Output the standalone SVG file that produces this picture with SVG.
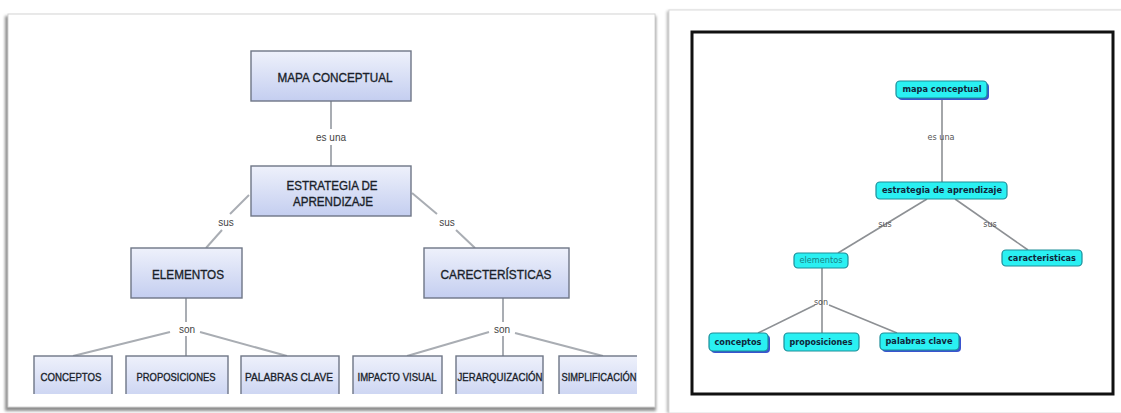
<svg xmlns="http://www.w3.org/2000/svg" width="1121" height="413" viewBox="0 0 1121 413">
  <defs>
    <linearGradient id="boxFill" x1="0" y1="0" x2="0" y2="1">
      <stop offset="0" stop-color="#eef1fb"/>
      <stop offset="1" stop-color="#c4cef0"/>
    </linearGradient>
    <filter id="panelShadow" x="-5%" y="-5%" width="110%" height="110%">
      <feGaussianBlur stdDeviation="1.5"/>
    </filter>
    <clipPath id="leftClip">
      <rect x="10" y="16" width="627" height="378"/>
    </clipPath>
    <style>
      .box { fill: url(#boxFill); stroke: #6e7686; stroke-width: 1.4; }
      .cap { font-family: "Liberation Sans", Arial, sans-serif; fill: #1a1f2a; stroke: #1a1f2a; stroke-width: 0.35; text-anchor: middle; }
      .big { font-size: 13px; }
      .small { font-size: 11.5px; }
      .lnk { font-family: "Liberation Sans", Arial, sans-serif; font-size: 10px; fill: #444; text-anchor: middle; }
      .edge { stroke: #a9adb3; stroke-width: 2; fill: none; }
      .node { fill: #2af0f2; stroke: #1d8d98; stroke-width: 1.2; }
      .nshadow { fill: #3a54cf; }
      .ntxt { font-family: "DejaVu Sans", Verdana, sans-serif; font-size: 8px; font-weight: bold; fill: #10263a; text-anchor: middle; }
      .nlite { font-family: "DejaVu Sans", Verdana, sans-serif; font-size: 8px; fill: #1a8286; text-anchor: middle; }
      .rlnk { font-family: "DejaVu Sans", Verdana, sans-serif; font-size: 8px; fill: #555; text-anchor: middle; }
      .redge { stroke: #8d9094; stroke-width: 1.6; fill: none; }
    </style>
  </defs>

  <rect x="0" y="0" width="1121" height="413" fill="#ffffff"/>

  <!-- left sheet -->
  <g id="left-panel">
    <rect x="5" y="16" width="651" height="395" fill="#8e8e8e" filter="url(#panelShadow)"/>
    <rect x="8" y="14" width="647" height="393" fill="#ffffff" stroke="#d4d4d4" stroke-width="1"/>
  </g>

  <!-- right sheet -->
  <g id="right-panel">
    <rect x="667" y="11" width="460" height="402" fill="#b0b0b0" filter="url(#panelShadow)"/>
    <rect x="669" y="10" width="460" height="403" fill="#ffffff" stroke="#dcdcdc" stroke-width="1"/>
    <rect x="692" y="32" width="421" height="362" fill="#ffffff" stroke="#111111" stroke-width="3"/>
  </g>

  <!-- left map connectors -->
  <g id="left-connectors">
    <line class="edge" x1="331" y1="101" x2="331" y2="129"/>
    <line class="edge" x1="331" y1="145" x2="331" y2="166"/>
    <line class="edge" x1="249" y1="195" x2="230" y2="214"/>
    <line class="edge" x1="222" y1="230" x2="206" y2="248"/>
    <line class="edge" x1="412" y1="193" x2="437" y2="214"/>
    <line class="edge" x1="456" y1="230" x2="475" y2="248"/>
    <line class="edge" x1="186" y1="298" x2="186" y2="322"/>
    <line class="edge" x1="186" y1="336" x2="186" y2="356"/>
    <line class="edge" x1="170" y1="332" x2="73" y2="356"/>
    <line class="edge" x1="200" y1="332" x2="287" y2="356"/>
    <line class="edge" x1="503" y1="298" x2="503" y2="322"/>
    <line class="edge" x1="503" y1="336" x2="503" y2="356"/>
    <line class="edge" x1="489" y1="332" x2="407" y2="356"/>
    <line class="edge" x1="515" y1="333" x2="603" y2="356"/>
  </g>

  <g id="left-labels">
    <text class="lnk" x="331" y="141">es una</text>
    <text class="lnk" x="226" y="226">sus</text>
    <text class="lnk" x="447" y="226">sus</text>
    <text class="lnk" x="187" y="333">son</text>
    <text class="lnk" x="502" y="333">son</text>
  </g>

  <g id="n-mapa">
    <rect class="box" x="251" y="51" width="160" height="50"/>
    <text class="cap big" x="335" y="82" textLength="115" lengthAdjust="spacingAndGlyphs">MAPA CONCEPTUAL</text>
  </g>
  <g id="n-estrategia">
    <rect class="box" x="251" y="166" width="160" height="50"/>
    <text class="cap big" x="332" y="190" textLength="91" lengthAdjust="spacingAndGlyphs">ESTRATEGIA DE</text>
    <text class="cap big" x="333" y="206" textLength="80" lengthAdjust="spacingAndGlyphs">APRENDIZAJE</text>
  </g>
  <g id="n-elementos">
    <rect class="box" x="131" y="248" width="111" height="50"/>
    <text class="cap big" x="188" y="279" textLength="72" lengthAdjust="spacingAndGlyphs">ELEMENTOS</text>
  </g>
  <g id="n-carecteristicas">
    <rect class="box" x="424" y="248" width="145" height="50"/>
    <text class="cap big" x="496" y="279" textLength="111" lengthAdjust="spacingAndGlyphs">CARECTERÍSTICAS</text>
  </g>

  <!-- bottom row runs past the edge of the sheet -->
  <g clip-path="url(#leftClip)">
    <g id="n-conceptos">
      <rect class="box" x="34" y="356" width="78" height="50"/>
      <text class="cap small" x="71" y="381" textLength="61" lengthAdjust="spacingAndGlyphs">CONCEPTOS</text>
    </g>
    <g id="n-proposiciones">
      <rect class="box" x="126" y="356" width="102" height="50"/>
      <text class="cap small" x="176" y="381" textLength="79" lengthAdjust="spacingAndGlyphs">PROPOSICIONES</text>
    </g>
    <g id="n-palabras">
      <rect class="box" x="241" y="356" width="98" height="50"/>
      <text class="cap small" x="289" y="381" textLength="88" lengthAdjust="spacingAndGlyphs">PALABRAS CLAVE</text>
    </g>
    <g id="n-impacto">
      <rect class="box" x="353" y="356" width="89" height="50"/>
      <text class="cap small" x="397" y="381" textLength="79" lengthAdjust="spacingAndGlyphs">IMPACTO VISUAL</text>
    </g>
    <g id="n-jerarquizacion">
      <rect class="box" x="456" y="356" width="87" height="50"/>
      <text class="cap small" x="500" y="381" textLength="85" lengthAdjust="spacingAndGlyphs">JERARQUIZACIÓN</text>
    </g>
    <g id="n-simplificacion">
      <rect class="box" x="559" y="356" width="90" height="50"/>
      <text class="cap small" x="599" y="381" textLength="75" lengthAdjust="spacingAndGlyphs">SIMPLIFICACIÓN</text>
    </g>
  </g>

  <!-- right map connectors -->
  <g id="right-connectors">
    <line class="redge" x1="942" y1="98" x2="942" y2="183"/>
    <line class="redge" x1="927" y1="199" x2="838" y2="253"/>
    <line class="redge" x1="955" y1="199" x2="1028" y2="250"/>
    <line class="redge" x1="822" y1="268" x2="822" y2="333"/>
    <line class="redge" x1="815" y1="305" x2="758" y2="333"/>
    <line class="redge" x1="829" y1="305" x2="897" y2="333"/>
  </g>

  <g id="right-labels">
    <text class="rlnk" x="941" y="140" textLength="27" lengthAdjust="spacingAndGlyphs">es una</text>
    <text class="rlnk" x="885" y="227">sus</text>
    <text class="rlnk" x="990" y="227">sus</text>
    <text class="rlnk" x="821" y="305">son</text>
  </g>

  <g id="r-mapa">
    <rect class="nshadow" x="898" y="83" width="91" height="17" rx="4"/>
    <rect class="node" x="896" y="81" width="91" height="17" rx="4"/>
    <text class="ntxt" x="942" y="92" textLength="79" lengthAdjust="spacingAndGlyphs">mapa conceptual</text>
  </g>
  <g id="r-estrategia">
    <rect class="node" x="876" y="182" width="131" height="17" rx="4"/>
    <text class="ntxt" x="942" y="193" textLength="120" lengthAdjust="spacingAndGlyphs">estrategia de aprendizaje</text>
  </g>
  <g id="r-elementos">
    <rect class="node" x="794" y="253" width="54" height="15" rx="4"/>
    <text class="nlite" x="821" y="263" textLength="43" lengthAdjust="spacingAndGlyphs">elementos</text>
  </g>
  <g id="r-caracteristicas">
    <rect class="node" x="1002" y="250" width="80" height="16" rx="4"/>
    <text class="ntxt" x="1042" y="261" textLength="68" lengthAdjust="spacingAndGlyphs">caracteristicas</text>
  </g>
  <g id="r-conceptos">
    <rect class="nshadow" x="711" y="335" width="59" height="18" rx="4"/>
    <rect class="node" x="709" y="333" width="59" height="18" rx="4"/>
    <text class="ntxt" x="738" y="345" textLength="47" lengthAdjust="spacingAndGlyphs">conceptos</text>
  </g>
  <g id="r-proposiciones">
    <rect class="node" x="784" y="333" width="75" height="18" rx="4"/>
    <text class="ntxt" x="821" y="345" textLength="63" lengthAdjust="spacingAndGlyphs">proposiciones</text>
  </g>
  <g id="r-palabras">
    <rect class="nshadow" x="882" y="335" width="79" height="17" rx="4"/>
    <rect class="node" x="880" y="333" width="79" height="17" rx="4"/>
    <text class="ntxt" x="919" y="344" textLength="67" lengthAdjust="spacingAndGlyphs">palabras clave</text>
  </g>
</svg>
